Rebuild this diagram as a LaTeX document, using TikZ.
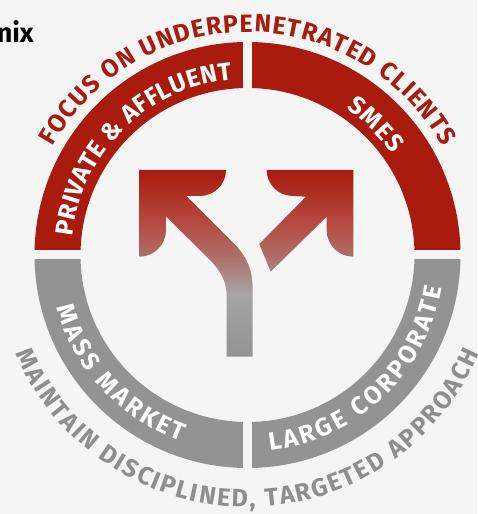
\documentclass[tikz,border=0pt]{standalone}
\usepackage{fontspec}
\setmainfont{Fira Sans}
\usepackage{tikz}
\usetikzlibrary{decorations.text}
\definecolor{bandred}{HTML}{A91B0D}
\definecolor{bandgray}{HTML}{939393}
\definecolor{wordgray}{HTML}{8E8E8E}
\definecolor{pagebg}{HTML}{F5F5F5}
\definecolor{midred}{HTML}{B5463C}
\definecolor{fadered}{HTML}{AE6E68}
\definecolor{fadegray}{HTML}{A6A4A4}
\pgfdeclareverticalshading{arrowfade}{100bp}{color(0bp)=(bandgray); color(25bp)=(bandgray); color(42bp)=(fadegray); color(52bp)=(fadered); color(62bp)=(midred); color(75bp)=(bandred); color(100bp)=(bandred)}
\newcommand\arcfont{\fontsize{25}{25}\selectfont\bfseries}
\tikzset{
  arcwords/.style 2 args={decorate, decoration={text along path, text align={fit to path}, text color=#1, text={|\arcfont|#2}}},
  gapbar/.style={fill=pagebg},
  splitarrow/.style={shading=arrowfade}
}

\begin{document}
\begin{tikzpicture}[x=1pt, y=1pt]
  \fill[pagebg] (-247.5,-259) rectangle (229.5,255);
  \useasboundingbox (-247.5,-259) rectangle (229.5,255);
  \coordinate (hub) at (0,0);
  \node[anchor=base east, font=\fontsize{27}{27}\selectfont\bfseries, text=black, inner sep=0pt] (title) at (-213.5,212.5) {nix};

  % ring halves
  \fill[bandred] (213,0) arc (0:180:213) -- (-167,0) arc (180:0:167) -- cycle;
  \fill[bandgray] (213,0) arc (0:-180:213) -- (-167,0) arc (-180:0:167) -- cycle;
  % gaps between quarters
  \fill[gapbar] (-4.5,160) rectangle (4.5,220);
  \fill[gapbar] (-4.5,-220) rectangle (4.5,-160);
  \fill[gapbar] (-220,-4) rectangle (-160,5);
  \fill[gapbar] (160,-4) rectangle (220,5);

  % outer captions
  \path[arcwords={bandred}{FOCUS ON UNDERPENETRATED CLIENTS}] (151:223) arc (151:29:223);
  \path[arcwords={wordgray}{MAINTAIN DISCIPLINED, TARGETED APPROACH}] (203:252) arc (203:337:252);

  % segment labels
  \path[arcwords={white}{PRIVATE {\&} AFFLUENT}] (174:176) arc (174:95:176);
  \path[arcwords={white}{SMES}] (56:176) arc (56:35:176);
  \path[arcwords={white}{MASS MARKET}] (195.5:198) arc (195.5:250.5:198);
  \path[arcwords={white}{LARGE CORPORATE}] (276.5:197) arc (276.5:350.5:197);

  % split arrow
  \shade[splitarrow]
    (-108.2,85) -- (-21.5,85) arc (0:-90:26) -- (-61,59) -- (-15,13)
      .. controls (0,-2) and (5.2,-15) .. (5.2,-35) -- (5.2,-101.7) -- (-20.8,-101.7) -- (-20.8,-41.7)
      .. controls (-20.8,-25) and (-28,-15) .. (-37.5,-5) -- (-81.5,38.5) -- (-81.5,25)
      arc (0:-90:26.7) -- cycle
    (19.2,85) -- (105.8,85) -- (105.8,-1.7) arc (-90:-180:26.7) -- (79.1,38.3) -- (23.2,-16.7)
      -- (11.8,11) -- (58.5,58.3) -- (45.2,59) arc (-90:-180:26) -- cycle;
\end{tikzpicture}
\end{document}
